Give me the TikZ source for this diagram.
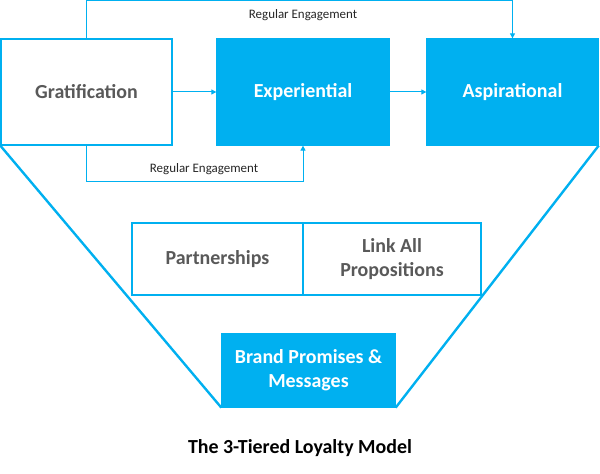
\documentclass[tikz,border=0pt]{standalone}
\usepackage{fontspec}
\setmainfont{Carlito}
\usetikzlibrary{arrows.meta, positioning}
\definecolor{skyblue}{HTML}{00B0F0}
\definecolor{darkgray}{HTML}{595959}

\begin{document}
\begin{tikzpicture}[x=1bp, y=-1bp,
    whitebox/.style={rectangle, draw=skyblue, line width=1.3bp, fill=white, text=darkgray, font=\fontsize{20}{24}\selectfont\bfseries, align=center, inner sep=2pt},
    bluebox/.style={rectangle, draw=skyblue, line width=1.3bp, fill=skyblue, text=white, font=\fontsize{20}{24}\selectfont\bfseries, align=center, inner sep=2pt},
    flow/.style={draw=skyblue, line width=1bp, -{Triangle[length=5bp, width=5bp]}},
    funnel/.style={draw=skyblue, line width=2.4bp},
    lbl/.style={font=\fontsize{13}{15}\selectfont, text=black!85}
]
\useasboundingbox (0,0) rectangle (600,474);

% Top row of tiers
\node[whitebox, minimum width=171bp, minimum height=106bp] (grat) at (86.5, 92) {Gratification};
\node[bluebox, minimum width=172bp, minimum height=106bp] (exper) at (303, 92) {Experiential};
\node[bluebox, minimum width=171bp, minimum height=106bp] (aspir) at (512.5, 92) {Aspirational};

% Middle row
\node[whitebox, minimum width=171bp, minimum height=72bp] (partner) at (217.5, 259) {Partnerships};
\node[whitebox, minimum width=178bp, minimum height=72bp] (linkall) at (392, 259) {Link All\\Propositions};

% Base of the funnel
\node[bluebox, minimum width=173bp, minimum height=73bp] (brand) at (308.5, 370.5) {Brand Promises \&\\Messages};

% Funnel sides
\draw[funnel] (grat.south west) -- (brand.south west);
\draw[funnel] (aspir.south east) -- (brand.south east);

% Arrows between tiers
\draw[flow] (grat) -- (exper);
\draw[flow] (exper) -- (aspir);

% Regular engagement loops
\draw[flow] (grat.north) -- ++(0,-38) -| (aspir.north);
\draw[flow] (grat.south) -- ++(0,36) -| (exper.south);
\node[lbl] (topreg) at (303, 15) {Regular Engagement};
\node[lbl] (botreg) at (204, 169) {Regular Engagement};

% Title
\node[font=\fontsize{20}{24}\selectfont\bfseries] (title) at (300, 448) {The 3-Tiered Loyalty Model};

\end{tikzpicture}
\end{document}
